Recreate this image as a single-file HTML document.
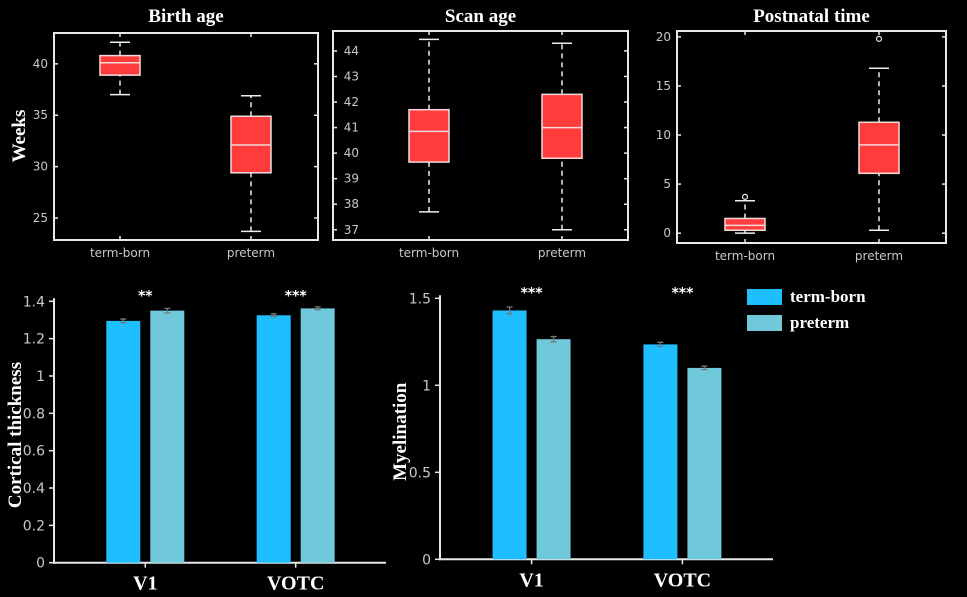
<!DOCTYPE html>
<html><head><meta charset="utf-8">
<style>
html,body{margin:0;padding:0;background:#000;}
svg{display:block;}
.tick{fill:#c8c8c8;font-family:"DejaVu Sans","Liberation Sans",sans-serif;font-size:12px;}
.btick{fill:#c8c8c8;font-family:"DejaVu Sans","Liberation Sans",sans-serif;font-size:14px;}
.title{fill:#fff;font-family:"Liberation Serif",serif;font-weight:bold;font-size:19px;}
.ylab{fill:#fff;font-family:"Liberation Serif",serif;font-weight:bold;font-size:19px;}
.leg{fill:#fff;font-family:"Liberation Serif",serif;font-weight:bold;font-size:17px;}
.cat{fill:#fff;font-family:"Liberation Serif",serif;font-weight:bold;font-size:20px;}
.star{fill:#fff;font-family:"DejaVu Sans",sans-serif;font-weight:bold;font-size:14px;}
</style></head>
<body>
<svg id="chart" width="967" height="597" xmlns="http://www.w3.org/2000/svg"></svg>
<script>
const groups = ["term-born","preterm"];
// box stats: [whiskerLow, q1, median, q3, whiskerHigh]
const birthTerm = [37.0, 38.9, 40.1, 40.8, 42.1];
const birthPre = [23.7, 29.4, 32.1, 34.9, 36.9];
const scanTerm = [37.7, 39.65, 40.85, 41.7, 44.45];
const scanPre = [37.0, 39.8, 41.0, 42.3, 44.3];
const postTerm = [0.0, 0.3, 0.8, 1.5, 3.3];
const postPre = [0.3, 6.1, 9.0, 11.3, 16.8];
const postTermOut = [3.7];
const postPreOut = [19.8];
const birthTicks = [25,30,35,40];
const scanTicks = [37,38,39,40,41,42,43,44];
const postTicks = [0,5,10,15,20];

const regions = ["V1","VOTC"];
const thickTerm = [1.295, 1.325];
const thickPre = [1.35, 1.362];
const thickTermErr = [0.01, 0.008];
const thickPreErr = [0.012, 0.008];
const thickStars = ["**","***"];
const thickTicks = [0,0.2,0.4,0.6,0.8,1,1.2,1.4];
const myelTerm = [1.43, 1.235];
const myelPre = [1.265, 1.10];
const myelTermErr = [0.02, 0.012];
const myelPreErr = [0.015, 0.01];
const myelStars = ["***","***"];
const myelTicks = [0,0.5,1,1.5];

const svg = document.getElementById('chart');
const NS = "http://www.w3.org/2000/svg";
function el(tag, attrs, parent){
  const e = document.createElementNS(NS, tag);
  for (const k in attrs) e.setAttribute(k, attrs[k]);
  (parent||svg).appendChild(e);
  return e;
}
function txt(s, attrs, parent){ const t = el('text', attrs, parent); t.textContent = s; return t; }

function boxPanel(name, title, x0, x1, y0, y1, ymin, ymax, ticks, stats, outs, cxs, labX, tickX){
  const g = el('g', {});
  
  
  const ys = v => y1 - (v - ymin) / (ymax - ymin) * (y1 - y0);
  const t = txt(title, {x:(x0+x1)/2, y:22, 'text-anchor':'middle', class:'title'}, g);
  
  
  const frame = el('rect', {x:x0, y:y0, width:x1-x0, height:y1-y0, fill:'none', stroke:'#e8e8e8', 'stroke-width':2}, g);
  
  
  ticks.forEach(v => {
    const y = ys(v);
    el('line', {x1:tickX, x2:tickX+4, y1:y, y2:y, stroke:'#e8e8e8', 'stroke-width':1.5}, g);
    el('line', {x1:x1-4, x2:x1, y1:y, y2:y, stroke:'#e8e8e8', 'stroke-width':1.5}, g);
    const lt = txt(String(v), {x:labX, y:y+4, 'text-anchor':'end', class:'tick'}, g);
    
    
  });
  groups.forEach((gname, i) => {
    const cx = cxs[i], s = stats[i], hw = 20;
    el('line', {x1:cx, x2:cx, y1:y1, y2:y1-4, stroke:'#e8e8e8', 'stroke-width':1.5}, g);
    el('line', {x1:cx, x2:cx, y1:y0, y2:y0+4, stroke:'#e8e8e8', 'stroke-width':1.5}, g);
    const xl = txt(gname, {x:cx, y:y1+17, 'text-anchor':'middle', class:'tick'}, g);
    
    
    const wl = el('line', {x1:cx, x2:cx, y1:ys(s[0]), y2:ys(s[1]), stroke:'#eee', 'stroke-width':1.5, 'stroke-dasharray':'5,4'}, g);
    
    
    const wu = el('line', {x1:cx, x2:cx, y1:ys(s[3]), y2:ys(s[4]), stroke:'#eee', 'stroke-width':1.5, 'stroke-dasharray':'5,4'}, g);
    
    
    [s[0], s[4]].forEach(v => {
      const c = el('line', {x1:cx-10, x2:cx+10, y1:ys(v), y2:ys(v), stroke:'#eee', 'stroke-width':1.5}, g);
      
      
    });
    const b = el('rect', {x:cx-hw, y:ys(s[3]), width:2*hw, height:ys(s[1])-ys(s[3]), fill:'#ff3b3b', stroke:'#f4dada', 'stroke-width':1.5}, g);
    
    
    const m = el('line', {x1:cx-hw, x2:cx+hw, y1:ys(s[2]), y2:ys(s[2]), stroke:'#f4dada', 'stroke-width':1.5}, g);
    
    
    (outs[i]||[]).forEach(v => {
      const o = el('circle', {cx:cx, cy:ys(v), r:2.5, fill:'none', stroke:'#eee', 'stroke-width':1.2}, g);
      
      
    });
  });
}

boxPanel('birth-age-panel', 'Birth age', 54, 318, 33, 240, 22.86, 43.0, birthTicks, [birthTerm, birthPre], [[],[]], [120, 251], 48, 54);
boxPanel('scan-age-panel', 'Scan age', 333, 628, 31, 240, 36.6, 44.78, scanTicks, [scanTerm, scanPre], [[],[]], [429, 562], 359, 333);
boxPanel('postnatal-time-panel', 'Postnatal time', 677, 946, 31, 243, -1.0, 20.6, postTicks, [postTerm, postPre], [postTermOut, postPreOut], [745, 879], 671, 677);

const wl = txt('Weeks', {x:0, y:0, transform:'translate(25,136) rotate(-90)', 'text-anchor':'middle', class:'ylab'});



function barPanel(name, ylabel, ylx, axX, axR, yZero, yTop, vTop, ticks, term, pre, termErr, preErr, stars, cats){
  const g = el('g', {});
  
  
  const ys = v => yZero - v / vTop * (yZero - yTop);
  const bw = 34;
  const ya = el('line', {x1:axX, x2:axX, y1:yZero+1, y2:yTop-3, stroke:'#e8e8e8', 'stroke-width':2}, g);
  
  
  const xa = el('line', {x1:axX-1, x2:axR, y1:yZero, y2:yZero, stroke:'#e8e8e8', 'stroke-width':2}, g);
  
  
  ticks.forEach(v => {
    const y = ys(v);
    el('line', {x1:axX-5, x2:axX, y1:y, y2:y, stroke:'#e8e8e8', 'stroke-width':1.5}, g);
    const lt = txt(String(v), {x:axX-9, y:y+5, 'text-anchor':'end', class:'btick'}, g);
    
    
  });
  const yt = txt(ylabel, {x:0, y:0, transform:'translate(' + ylx + ',' + ((yZero+yTop)/2 + 3) + ') rotate(-90)', 'text-anchor':'middle', class:'ylab'}, g);
  
  
  cats.forEach((c, i) => {
    const cx = [axX + (axR-axX)*0.275, axX + (axR-axX)*0.728][i];
    el('line', {x1:cx, x2:cx, y1:yZero, y2:yZero+5, stroke:'#e8e8e8', 'stroke-width':1.5}, g);
    const ct = txt(c, {x:cx, y:yZero+27, 'text-anchor':'middle', class:'cat'}, g);
    
    
    [[term, termErr, '#1fbfff', 'term-born', cx-39], [pre, preErr, '#6fc9db', 'preterm', cx+5]].forEach(([vals, errs, col, nm, bx]) => {
      const v = vals[i], e = errs[i];
      const r = el('rect', {x:bx, y:ys(v), width:bw, height:yZero-ys(v), fill:col}, g);
      
      
      const ex = bx + bw/2;
      const eb = el('path', {d:'M'+(ex-3)+','+ys(v+e)+'H'+(ex+3)+'M'+ex+','+ys(v+e)+'V'+ys(v-e)+'M'+(ex-3)+','+ys(v-e)+'H'+(ex+3), stroke:'#777', 'stroke-width':1.3, fill:'none'}, g);
      
      
    });
    const st = txt(stars[i], {x:cx, y:yTop - 1, 'text-anchor':'middle', class:'star'}, g);
    
    
  });
}

barPanel('cortical-thickness-chart', 'Cortical thickness', 21, 54, 386, 562.7, 301.3, 1.4, thickTicks, thickTerm, thickPre, thickTermErr, thickPreErr, thickStars, regions);
barPanel('myelination-chart', 'Myelination', 406, 440, 773, 559.3, 298.3, 1.5, myelTicks, myelTerm, myelPre, myelTermErr, myelPreErr, myelStars, regions);

const lg = el('g', {});


[['term-born','#1fbfff',289],['preterm','#6fc9db',315]].forEach(([n,c,y]) => {
  const e = el('g', {}, lg);
  
  
  el('rect', {x:747, y:y, width:35, height:16, fill:c}, e);
  txt(n, {x:790, y:y+13, class:'leg'}, e);
});
</script>
</body></html>
